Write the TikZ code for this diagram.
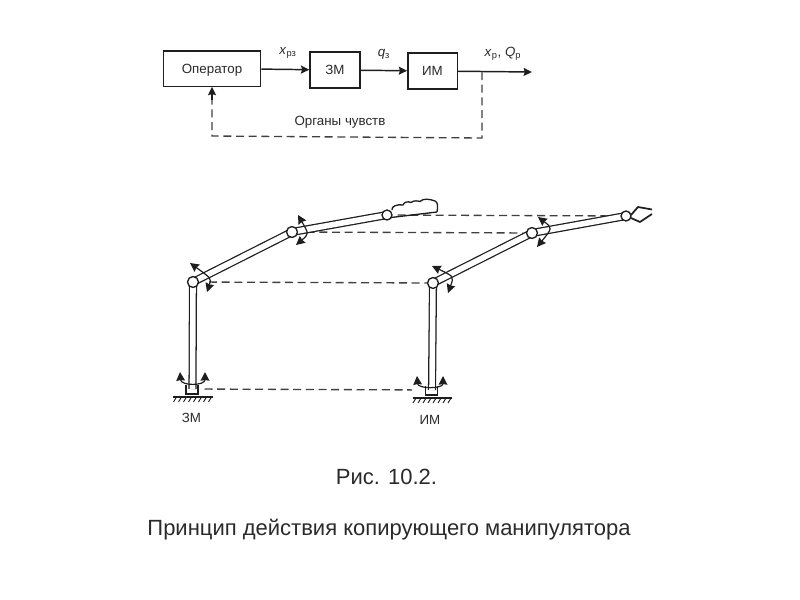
\documentclass[tikz,border=0pt]{standalone}
\usepackage{fontspec}
\setmainfont{Liberation Sans}
\usepackage{xcolor}
\usetikzlibrary{arrows.meta}
\definecolor{inkc}{HTML}{1E1E1E}
\definecolor{textc}{HTML}{2A2A2A}
\tikzset{
  ar/.style={-{Stealth[length=2.2mm,width=2.1mm,inset=0.3mm]},line width=1.1pt,inkc},
  fb/.style={dash pattern=on 6pt off 3.5pt,line width=1pt,inkc!85},
  box/.style={draw=inkc,line width=1pt,fill=white,align=center,inner sep=0pt,text height=7pt,text depth=0pt,font=\fontsize{10}{12}\selectfont,text=textc},
  lbl/.style={inner sep=0pt,font=\fontsize{10}{12}\selectfont,text=textc},
  captxt/.style={inner sep=0pt,font=\fontsize{16.5}{20}\selectfont,text=textc},
  lnk/.style={double=white,double distance=4.2pt,line width=0.95pt,draw=inkc},
  jnt/.style={circle,draw=inkc,line width=1pt,fill=white,minimum size=8.2pt,inner sep=0pt},
  rot/.style={{Stealth[length=2.3mm,width=2.3mm,inset=0.2mm]}-{Stealth[length=2.3mm,width=2.3mm,inset=0.2mm]},line width=0.9pt,inkc},
  mech/.style={line width=1pt,inkc}
}
\begin{document}
\begin{tikzpicture}[x=0.75pt,y=-0.75pt]
\useasboundingbox (0,0) rectangle (800,600);
\node[box,minimum width=73pt,minimum height=26.5pt] (oper) at (212,68.5) {Оператор};
\node[box,minimum width=37.5pt,minimum height=27pt] (zm) at (335,70) {ЗМ};
\node[box,minimum width=37pt,minimum height=27pt] (im) at (432.5,71) {ИМ};
\coordinate (tap) at (482,72);
\coordinate (out) at (532,72);
\coordinate (fbr) at (482,138);
\coordinate (fbl) at (212,136);
\draw[ar] (oper) -- (zm);
\draw[ar] (zm) -- (im);
\draw[ar] (im) -- (out);
\draw[fb] (tap) -- (fbr) -- (fbl) -- (212,100);
\draw[ar] (212,100) -- (oper.south);
\node[lbl] (xrz) at (288,53) {\textit{x}\textsubscript{рз}};
\node[lbl] (qz) at (384,54) {\textit{q}\textsubscript{з}};
\node[lbl] (xq) at (503,54) {\textit{x}\textsubscript{р}, \textit{Q}\textsubscript{р}};
\node[lbl] (org) at (340,122) {Органы чувств};
%
\coordinate (baseA) at (192.5,389);
\coordinate (shA) at (193,282);
\coordinate (elA) at (292,232);
\coordinate (wrA) at (387,215);
\coordinate (baseB) at (432,390);
\coordinate (shB) at (433,283);
\coordinate (elB) at (532,233);
\coordinate (wrB) at (626,216);
\draw[fb,shorten <=9pt,shorten >=15pt] (baseA) -- (baseB);
\draw[fb,shorten <=12pt,shorten >=4pt] (shA) -- (shB);
\draw[fb,shorten <=11pt,shorten >=7pt] (elA) -- (elB);
\draw[fb,shorten <=8pt,shorten >=5pt] (wrA) -- (wrB);
\foreach \a/\b in {baseA/shA,shA/elA,elA/wrA,baseB/shB,shB/elB,elB/wrB}
  \draw[lnk] (\a) -- (\b);
\foreach \cx/\cy in {192.5/394,432/395}{
  \draw[mech] (\cx-6.5,\cy-9) -- (\cx-6.5,\cy) -- (\cx+5.5,\cy) -- (\cx+5.5,\cy-9);
  \draw[mech] (\cx-19.5,\cy+3) -- (\cx+20,\cy+3);
  \foreach \i in {0,...,7}
    \draw[line width=0.7pt,inkc] (\cx-16+\i*5,\cy+3) -- (\cx-19+\i*5,\cy+8);
}
\draw[rot] (180,372) .. controls (181,386) and (205,386) .. (205,372);
\draw[rot] (417,376) .. controls (418,389) and (443,389) .. (443,376);
\draw[rot] (190,263) .. controls (211.5,278.5) .. (207,292);
\draw[rot] (298,215) .. controls (309,234) .. (296,245);
\draw[rot] (432,266) .. controls (454,276.5) .. (448,293);
\draw[rot] (538,217) .. controls (552.5,228) .. (537,247);
\foreach \j in {shA,elA,shB,elB}
  \node[jnt] (\j n) at (\j) {};
\node[jnt,minimum size=7.5pt] (wrAn) at (wrA) {};
\node[jnt,minimum size=7.5pt] (wrBn) at (wrB) {};
\draw[mech] (391,217.5) -- (437,212);
\draw[mech] (392,210) .. controls (391,206) and (398,204) .. (403,205)
  .. controls (404,202) and (408,201) .. (411,202.5)
  .. controls (414,200) and (418,201) .. (420,201.5)
  .. controls (423,198) and (430,199) .. (435,201)
  .. controls (438,202) and (438,207) .. (437,212);
\draw[mech,line width=1.3pt,line join=round] (631,215) -- (638,207) -- (652,209.5);
\draw[mech,line width=1.3pt,line join=round] (631,218) -- (640,222) -- (652,214);
\node[lbl] (zmb) at (191.5,418) {ЗМ};
\node[lbl] (imb) at (430,420) {ИМ};
\node[captxt] (fig) at (386.5,477) {Рис. 10.2.};
\node[captxt] (title) at (389,530) {Принцип действия копирующего манипулятора};
\end{tikzpicture}
\end{document}
